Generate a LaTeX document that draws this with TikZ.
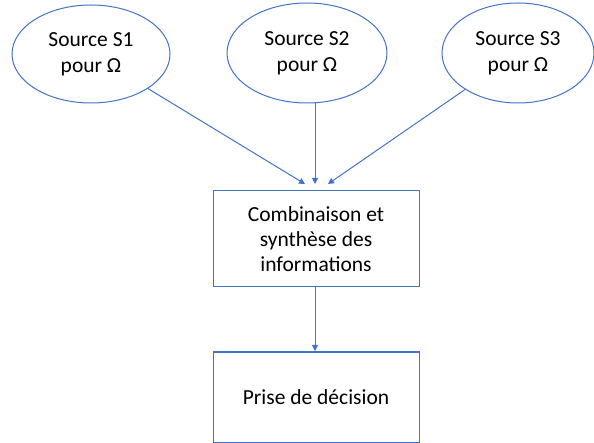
\documentclass[tikz,border=0pt]{standalone}
\usepackage{fontspec}
\setmainfont{Carlito}
\usetikzlibrary{shapes.geometric,arrows.meta}
\definecolor{obl}{HTML}{4472C4}
\tikzset{
  src/.style={draw=obl, line width=1pt, ellipse, inner sep=0pt, minimum width=158pt, minimum height=98pt, align=center, font=\fontsize{21.5}{26}\selectfont},
  boxn/.style={draw=obl, line width=1pt, rectangle, inner sep=0pt, minimum width=206pt, align=center, font=\fontsize{21.5}{25}\selectfont},
  conn/.style={draw=obl, line width=1pt, -{Triangle[width=6pt,length=6pt]}}
}
\begin{document}
\begin{tikzpicture}[x=1pt,y=-1pt]
\useasboundingbox (0,0) rectangle (594,443);
\node[src] (e1) at (91,54) {Source S1\\pour Ω};
\node[src, minimum width=160pt, minimum height=100pt] (e2) at (307,53) {Source S2\\pour Ω};
\node[src, minimum width=152pt, minimum height=100pt] (e3) at (518,53) {Source S3\\pour Ω};
\node[boxn, minimum height=96pt] (b1) at (316,239) {Combinaison et\\synthèse des\\informations};
\node[boxn, minimum height=90pt] (b2) at (316,397) {Prise de décision};
\coordinate (t1) at (305,184);
\coordinate (t2) at (315,184);
\coordinate (t3) at (328,184);
\coordinate (t4) at (315,351);
\draw[conn] (e1) -- (t1);
\draw[conn] (e2.south -| t2) -- (t2);
\draw[conn] (e3) -- (t3);
\draw[conn] (b1.south -| t4) -- (t4);
\end{tikzpicture}
\end{document}
